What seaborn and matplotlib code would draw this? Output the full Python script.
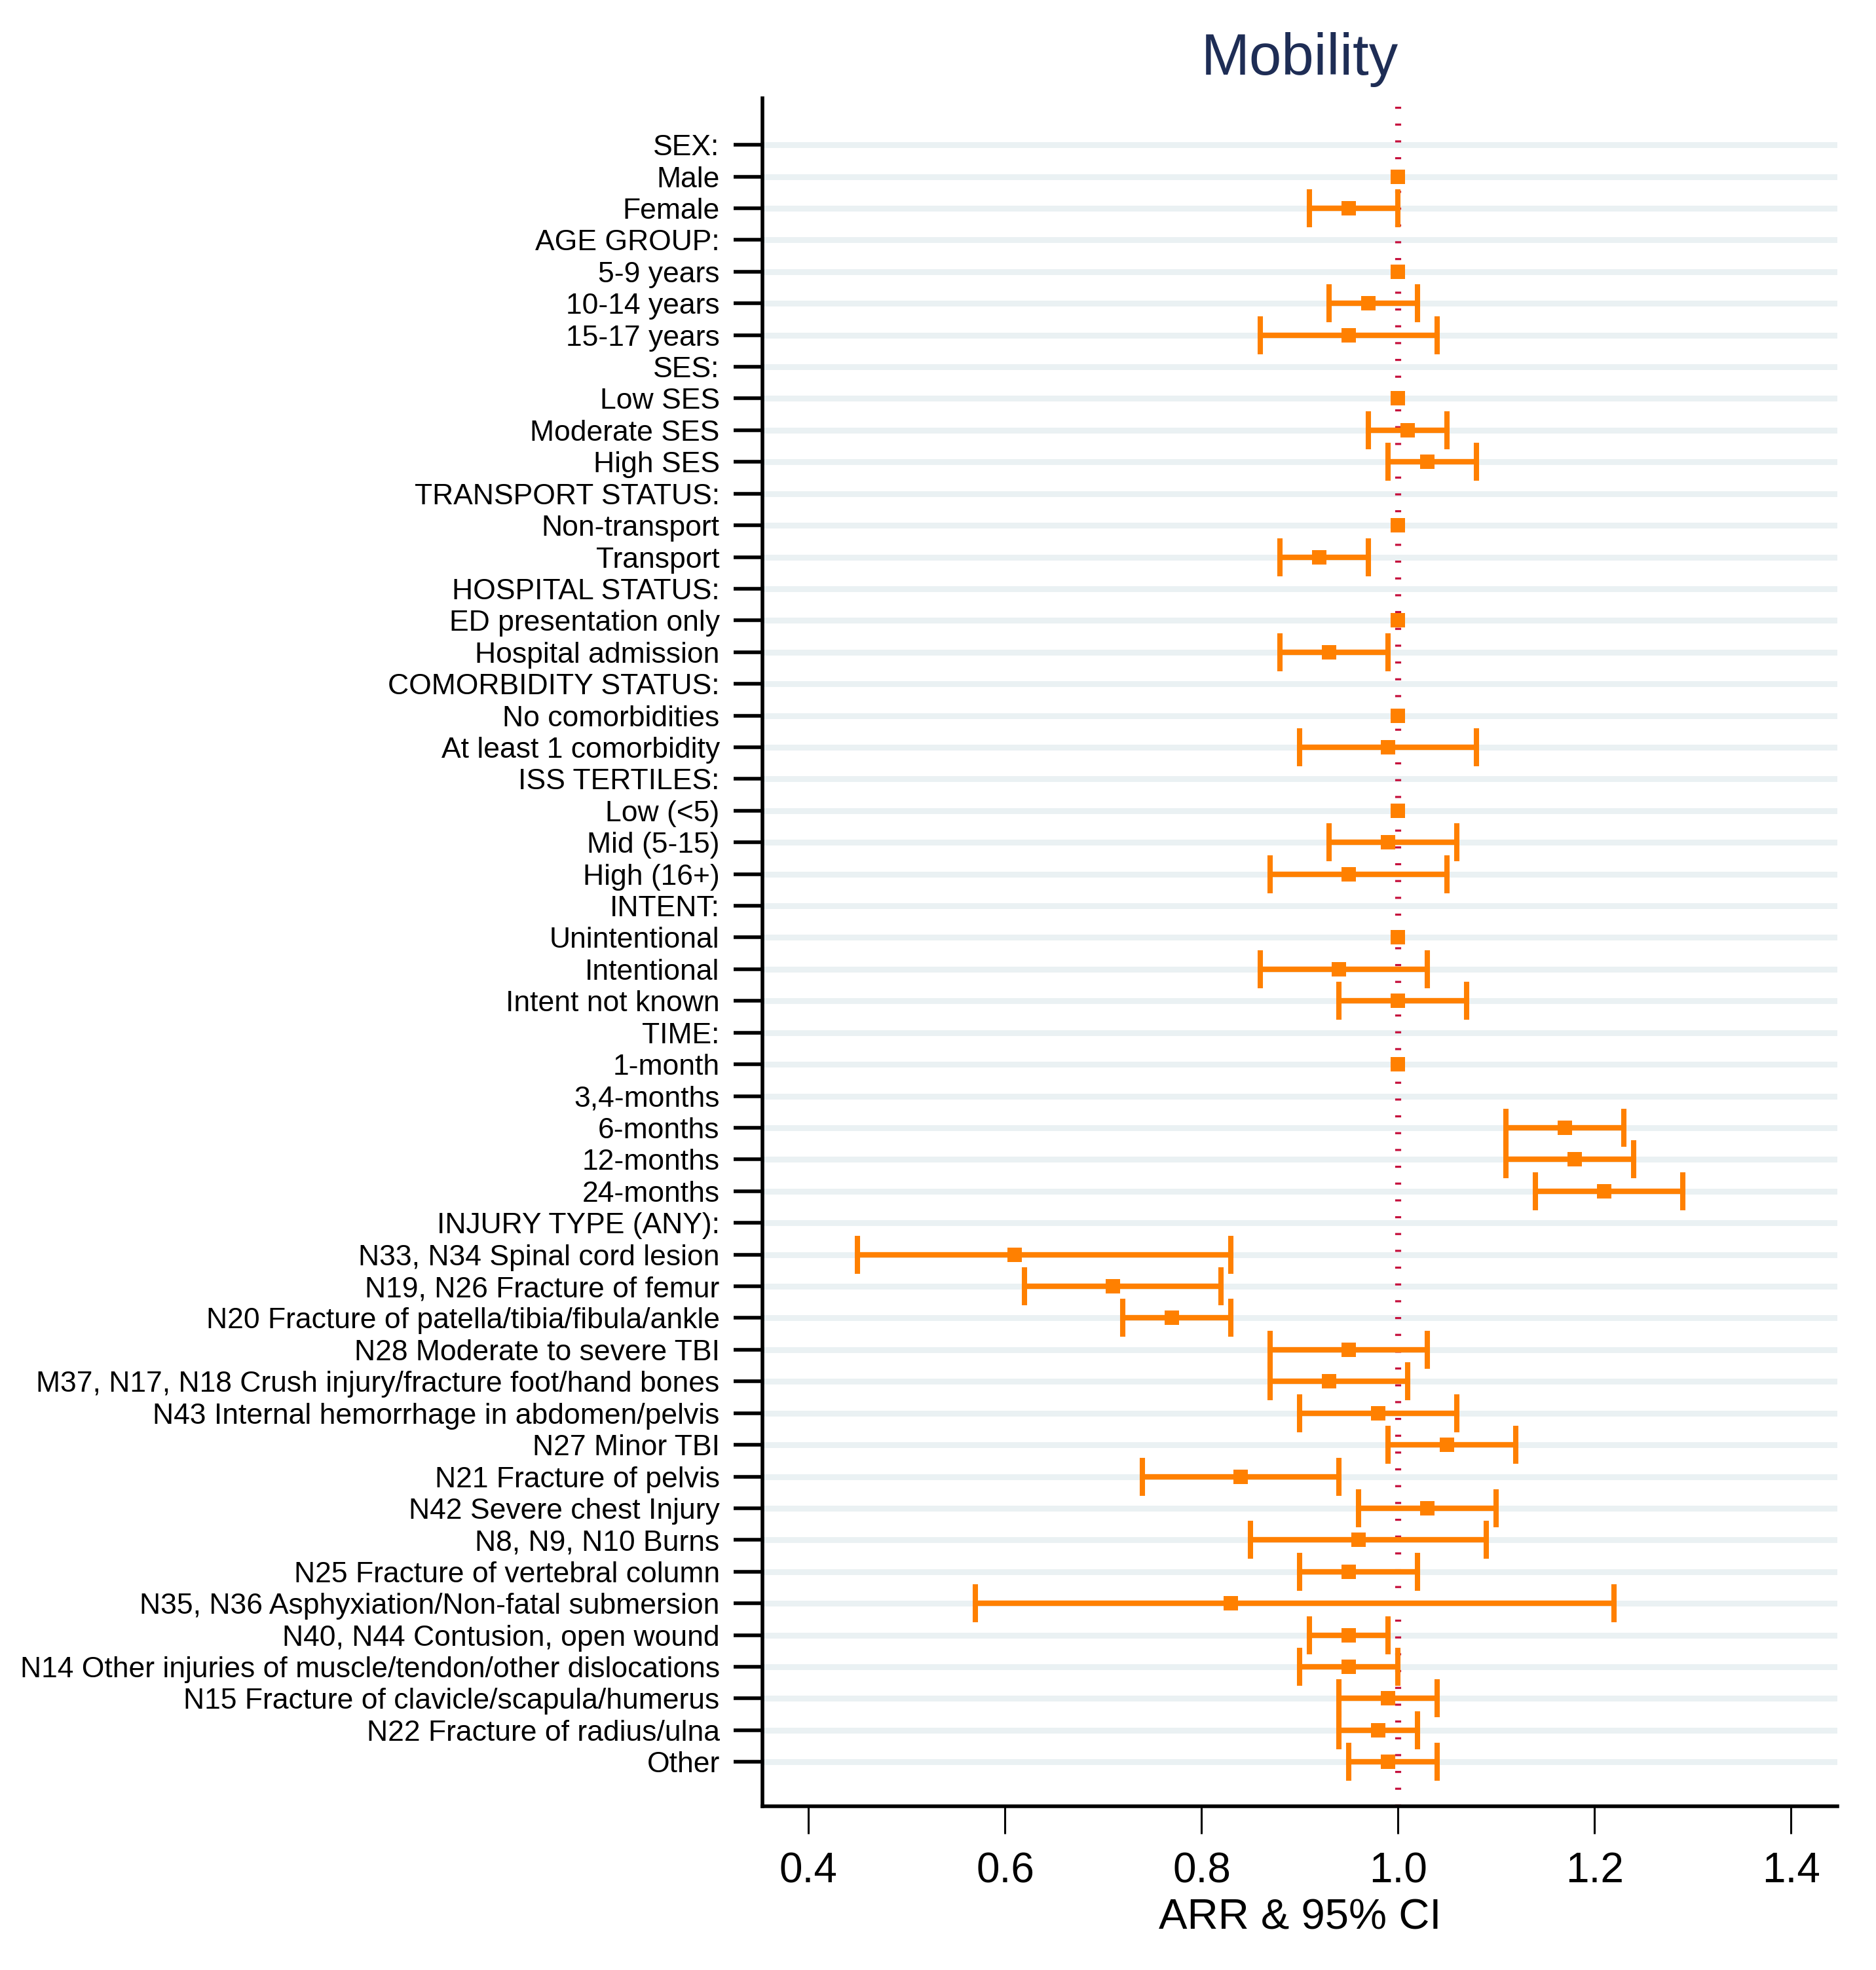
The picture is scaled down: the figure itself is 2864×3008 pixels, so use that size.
import numpy as np
import pandas as pd
import matplotlib
matplotlib.use("Agg")
import matplotlib.pyplot as plt
import seaborn as sns

# === Data ===
labels = [
    "SEX:", "Male", "Female",
    "AGE GROUP:", "5-9 years", "10-14 years", "15-17 years",
    "SES:", "Low SES", "Moderate SES", "High SES",
    "TRANSPORT STATUS:", "Non-transport", "Transport",
    "HOSPITAL STATUS:", "ED presentation only", "Hospital admission",
    "COMORBIDITY STATUS:", "No comorbidities", "At least 1 comorbidity",
    "ISS TERTILES:", "Low (<5)", "Mid (5-15)", "High (16+)",
    "INTENT:", "Unintentional", "Intentional", "Intent not known",
    "TIME:", "1-month", "3,4-months", "6-months", "12-months", "24-months",
    "INJURY TYPE (ANY):",
    "N33, N34 Spinal cord lesion",
    "N19, N26 Fracture of femur",
    "N20 Fracture of patella/tibia/fibula/ankle",
    "N28 Moderate to severe TBI",
    "M37, N17, N18 Crush injury/fracture foot/hand bones",
    "N43 Internal hemorrhage in abdomen/pelvis",
    "N27 Minor TBI",
    "N21 Fracture of pelvis",
    "N42 Severe chest Injury",
    "N8, N9, N10 Burns",
    "N25 Fracture of vertebral column",
    "N35, N36 Asphyxiation/Non-fatal submersion",
    "N40, N44 Contusion, open wound",
    "N14 Other injuries of muscle/tendon/other dislocations",
    "N15 Fracture of clavicle/scapula/humerus",
    "N22 Fracture of radius/ulna",
    "Other",
]
nan = np.nan
arr = [
    nan, 1.00, 0.95,
    nan, 1.00, 0.97, 0.95,
    nan, 1.00, 1.01, 1.03,
    nan, 1.00, 0.92,
    nan, 1.00, 0.93,
    nan, 1.00, 0.99,
    nan, 1.00, 0.99, 0.95,
    nan, 1.00, 0.94, 1.00,
    nan, 1.00, nan, 1.17, 1.18, 1.21,
    nan,
    0.61, 0.71, 0.77, 0.95, 0.93, 0.98, 1.05, 0.84,
    1.03, 0.96, 0.95, 0.83, 0.95, 0.95, 0.99, 0.98, 0.99,
]
ci_low = [
    nan, nan, 0.91,
    nan, nan, 0.93, 0.86,
    nan, nan, 0.97, 0.99,
    nan, nan, 0.88,
    nan, nan, 0.88,
    nan, nan, 0.90,
    nan, nan, 0.93, 0.87,
    nan, nan, 0.86, 0.94,
    nan, nan, nan, 1.11, 1.11, 1.14,
    nan,
    0.45, 0.62, 0.72, 0.87, 0.87, 0.90, 0.99, 0.74,
    0.96, 0.85, 0.90, 0.57, 0.91, 0.90, 0.94, 0.94, 0.95,
]
ci_high = [
    nan, nan, 1.00,
    nan, nan, 1.02, 1.04,
    nan, nan, 1.05, 1.08,
    nan, nan, 0.97,
    nan, nan, 0.99,
    nan, nan, 1.08,
    nan, nan, 1.06, 1.05,
    nan, nan, 1.03, 1.07,
    nan, nan, nan, 1.23, 1.24, 1.29,
    nan,
    0.83, 0.82, 0.83, 1.03, 1.01, 1.06, 1.12, 0.94,
    1.10, 1.09, 1.02, 1.22, 0.99, 1.00, 1.04, 1.02, 1.04,
]
x_ticks = [0.4, 0.6, 0.8, 1.0, 1.2, 1.4]

df = pd.DataFrame({"label": labels, "arr": arr, "lo": ci_low, "hi": ci_high})
df["row"] = np.arange(len(df))

orange = "#FF8000"
ref_red = "#C50F3C"
grid_col = "#EAF1F3"
navy = "#1E2D55"

sns.set_theme(style="white")
plt.rcParams["font.family"] = ["Liberation Sans", "DejaVu Sans"]

fig = plt.figure(figsize=(14.32, 15.04), dpi=200)
ax = fig.add_axes([0.4064, 0.0831, 0.5730, 0.8670])

# row bands
ax.set_yticks(df["row"])
ax.set_yticklabels(df["label"])
ax.yaxis.grid(True, color=grid_col, linewidth=3.2)
ax.xaxis.grid(False)
ax.set_axisbelow(True)

# reference line at 1
ax.axvline(1.0, color=ref_red, linewidth=3.3, linestyle=(0, (0.35, 2.45)),
           dash_capstyle="butt", zorder=2)

# confidence intervals
ci = df.dropna(subset=["lo"])
ax.errorbar(ci["arr"], ci["row"], xerr=[ci["arr"] - ci["lo"], ci["hi"] - ci["arr"]],
            fmt="none", ecolor=orange, elinewidth=3.0, capsize=10.5, capthick=2.9,
            zorder=3)

# point estimates
sns.scatterplot(data=df.dropna(subset=["arr"]), x="arr", y="row", marker="s",
                s=60, color=orange, linewidth=0, ax=ax, zorder=4)

ax.set_xlim(0.353, 1.447)
ax.set_ylim(52.40, -1.467)
ax.set_xticks(x_ticks)
ax.set_xticklabels([f"{t:.1f}" for t in x_ticks])

for side in ["top", "right"]:
    ax.spines[side].set_visible(False)
for side in ["left", "bottom"]:
    ax.spines[side].set_color("black")
    ax.spines[side].set_linewidth(2.0)

ax.tick_params(axis="y", which="major", left=True, length=16, width=2.0,
               color="black", labelsize=16, pad=7.5, labelcolor="black")
ax.tick_params(axis="x", which="major", bottom=True, length=15, width=1.1,
               color="black", labelsize=23, pad=10, labelcolor="black")

ax.set_xlabel("ARR & 95% CI", fontsize=23.5, color="black", labelpad=4)
ax.set_ylabel("")
ax.set_title("Mobility", fontsize=32, color=navy, pad=13)

fig.savefig("out.png", dpi=200)
plt.close(fig)
